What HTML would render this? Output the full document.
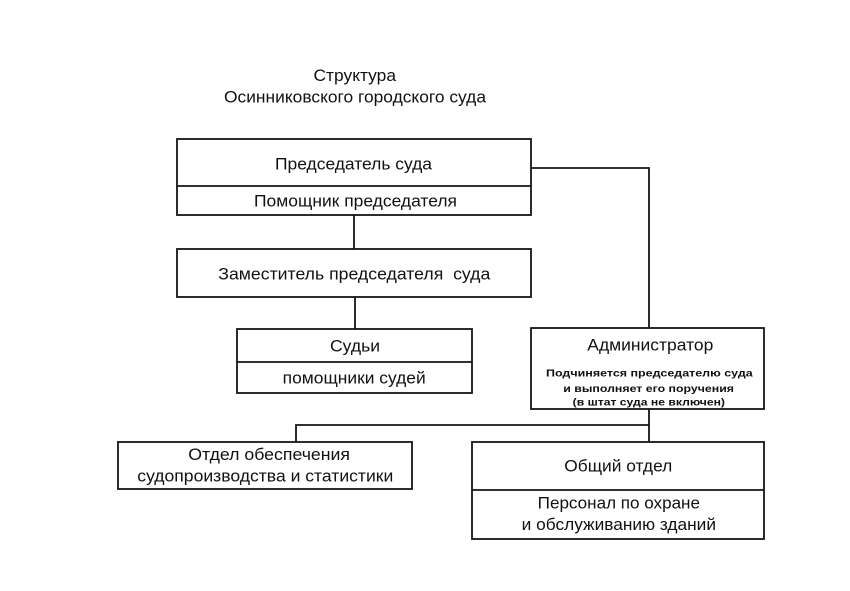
<!DOCTYPE html>
<html>
<head>
<meta charset="utf-8">
<style>
  html,body{margin:0;padding:0;background:#fff;}
  svg{display:block;}
  text{font-family:"Liberation Sans","Noto Sans CJK SC",sans-serif;fill:#111;}
  .m{font-size:17px;}
  .s{font-size:10.5px;font-weight:bold;}
</style>
</head>
<body>
<svg width="850" height="591" viewBox="0 0 850 591" xmlns="http://www.w3.org/2000/svg">
  <rect x="0" y="0" width="850" height="591" fill="#fff"/>
  <g fill="none" stroke="#151515" stroke-width="1.8">
    <!-- Top box -->
    <rect x="177" y="139" width="354" height="76"/>
    <line x1="177" y1="186" x2="531" y2="186"/>
    <!-- Deputy -->
    <rect x="177" y="249" width="354" height="48"/>
    <!-- Judges -->
    <rect x="237" y="329" width="235" height="64"/>
    <line x1="237" y1="362" x2="472" y2="362"/>
    <!-- Administrator -->
    <rect x="531" y="328" width="233" height="81"/>
    <!-- Dept left -->
    <rect x="118" y="442" width="294" height="47"/>
    <!-- General dept -->
    <rect x="472" y="442" width="292" height="97"/>
    <line x1="472" y1="490" x2="764" y2="490"/>
    <!-- Connectors -->
    <line x1="354" y1="215" x2="354" y2="249"/>
    <line x1="355" y1="297" x2="355" y2="329"/>
    <polyline points="531,168 649,168 649,328"/>
    <line x1="649" y1="409" x2="649" y2="442"/>
    <polyline points="296,442 296,425 649,425"/>
  </g>

  <!-- Title -->
  <text class="m" x="313.5" y="81" textLength="82.5" lengthAdjust="spacingAndGlyphs">Структура</text>
  <text class="m" x="224" y="102.3" textLength="262" lengthAdjust="spacingAndGlyphs">Осинниковского городского суда</text>

  <text class="m" x="275" y="169.3" textLength="157" lengthAdjust="spacingAndGlyphs">Председатель суда</text>
  <text class="m" x="254" y="206.7" textLength="203" lengthAdjust="spacingAndGlyphs">Помощник председателя</text>

  <text class="m" x="218.3" y="279.3" textLength="272" lengthAdjust="spacingAndGlyphs" xml:space="preserve">Заместитель председателя  суда</text>

  <text class="m" x="330" y="351.7" textLength="50" lengthAdjust="spacingAndGlyphs">Судьи</text>
  <text class="m" x="282.7" y="383.3" textLength="143" lengthAdjust="spacingAndGlyphs">помощники судей</text>

  <text class="m" x="587.3" y="350.7" textLength="126" lengthAdjust="spacingAndGlyphs">Администратор</text>
  <text class="s" x="546" y="376.7" textLength="206.7" lengthAdjust="spacingAndGlyphs">Подчиняется председателю суда</text>
  <text class="s" x="563.3" y="392" textLength="170.7" lengthAdjust="spacingAndGlyphs">и выполняет его поручения</text>
  <text class="s" x="572.7" y="405.5" textLength="152.3" lengthAdjust="spacingAndGlyphs">(в штат суда не включен)</text>

  <text class="m" x="188.3" y="460" textLength="161.7" lengthAdjust="spacingAndGlyphs">Отдел обеспечения</text>
  <text class="m" x="137.3" y="481.5" textLength="256" lengthAdjust="spacingAndGlyphs">судопроизводства и статистики</text>

  <text class="m" x="564.3" y="471.7" textLength="108" lengthAdjust="spacingAndGlyphs">Общий отдел</text>
  <text class="m" x="537.7" y="508.3" textLength="162.3" lengthAdjust="spacingAndGlyphs">Персонал по охране</text>
  <text class="m" x="521.7" y="530" textLength="194.3" lengthAdjust="spacingAndGlyphs">и обслуживанию зданий</text>
</svg>
</body>
</html>
